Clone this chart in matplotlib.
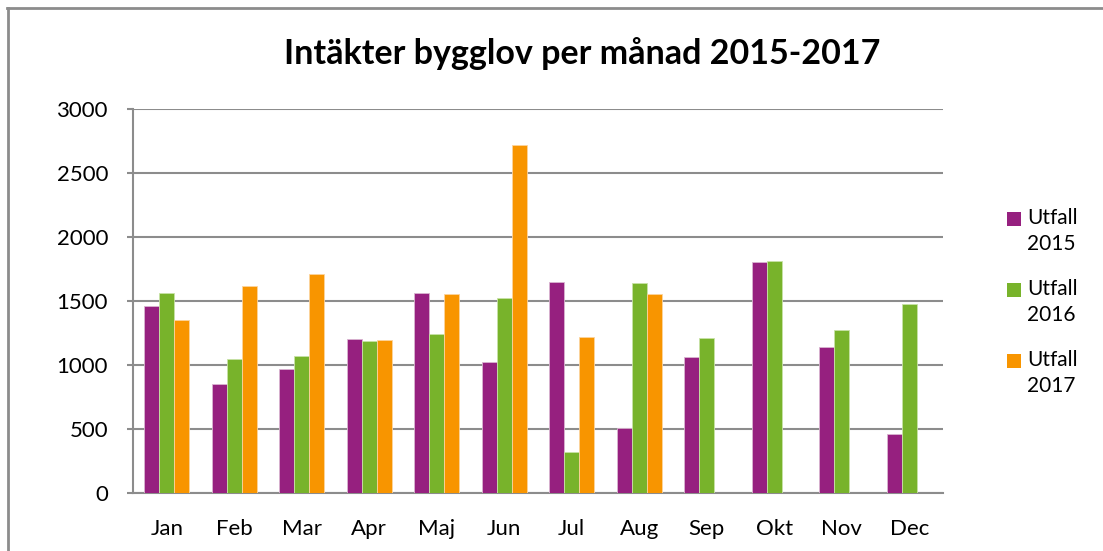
import matplotlib
matplotlib.use("Agg")
import matplotlib.pyplot as plt
from matplotlib.lines import Line2D
from matplotlib.patches import Rectangle
import numpy as np

months = ["Jan", "Feb", "Mar", "Apr", "Maj", "Jun", "Jul", "Aug", "Sep", "Okt", "Nov", "Dec"]
utfall_2015 = [1463, 850, 965, 1202, 1560, 1025, 1648, 509, 1059, 1802, 1140, 464]
utfall_2016 = [1560, 1043, 1069, 1184, 1239, 1523, 318, 1643, 1210, 1810, 1273, 1476]
utfall_2017 = [1348, 1617, 1711, 1194, 1552, 2720, 1218, 1557, np.nan, np.nan, np.nan, np.nan]
series_labels = ["Utfall\n2015", "Utfall\n2016", "Utfall\n2017"]
title = "Intäkter bygglov per månad 2015-2017"
yticks = [0, 500, 1000, 1500, 2000, 2500, 3000]

colors = ["#96207F", "#78B32B", "#F89500"]
edge_colors = ["#D9B5D0", "#C8E2A6", "#FCD49E"]

plt.rcParams["font.family"] = ["Lato", "DejaVu Sans"]

W, H = 1103, 551
fig = plt.figure(figsize=(W / 100, H / 100), dpi=100)
ax = fig.add_axes([133 / W, 58 / H, 810 / W, 384 / H])

x = np.arange(len(months))
w = 0.22
for i, (vals, c, ec, lab) in enumerate(zip([utfall_2015, utfall_2016, utfall_2017], colors, edge_colors, series_labels)):
    ax.bar(x + (i - 1) * w, vals, width=w, color=c, edgecolor=ec, linewidth=0.6, label=lab, zorder=3)

ax.set_xlim(-0.5, len(months) - 0.5)
ax.set_ylim(0, 3000)
ax.set_yticks(yticks)
ax.set_xticks(x)
ax.set_xticklabels(months)
ax.tick_params(axis="x", length=0, pad=19, labelsize=16)
ax.tick_params(axis="y", length=4, width=1.5, color="#8C8C8C", pad=14, labelsize=16)
ax.yaxis.grid(True, color="#8C8C8C", linewidth=1.5, zorder=0)
ax.set_axisbelow(True)
for s in ["right", "top"]:
    ax.spines[s].set_visible(False)
for s in ["left", "bottom"]:
    ax.spines[s].set_color("#8C8C8C")
    ax.spines[s].set_linewidth(1.5)

fig.text(582 / W, 1 - 54 / H, title, ha="center", va="center", fontsize=24.5, fontweight="bold")

# legend drawn manually (square aligned with first text line, as in the reference)
legend_y = [219, 290, 361]
for lab, c, yc in zip(series_labels, colors, legend_y):
    fig.add_artist(Rectangle((1007 / W, 1 - (yc + 7) / H), 14 / W, 14 / H, facecolor=c,
                             edgecolor="none", transform=fig.transFigure))
    fig.text(1027 / W, 1 - (yc - 11) / H, lab, ha="left", va="top", fontsize=15, linespacing=1.35)

# outer chart border (top and left only visible)
fig.add_artist(Line2D([7 / W, 1.0], [1 - 7.5 / H, 1 - 7.5 / H], color="#8C8C8C", linewidth=2, transform=fig.transFigure))
fig.add_artist(Line2D([7.5 / W, 7.5 / W], [0, 1 - 7.5 / H], color="#8C8C8C", linewidth=2, transform=fig.transFigure))

fig.savefig("out.png", dpi=100)
